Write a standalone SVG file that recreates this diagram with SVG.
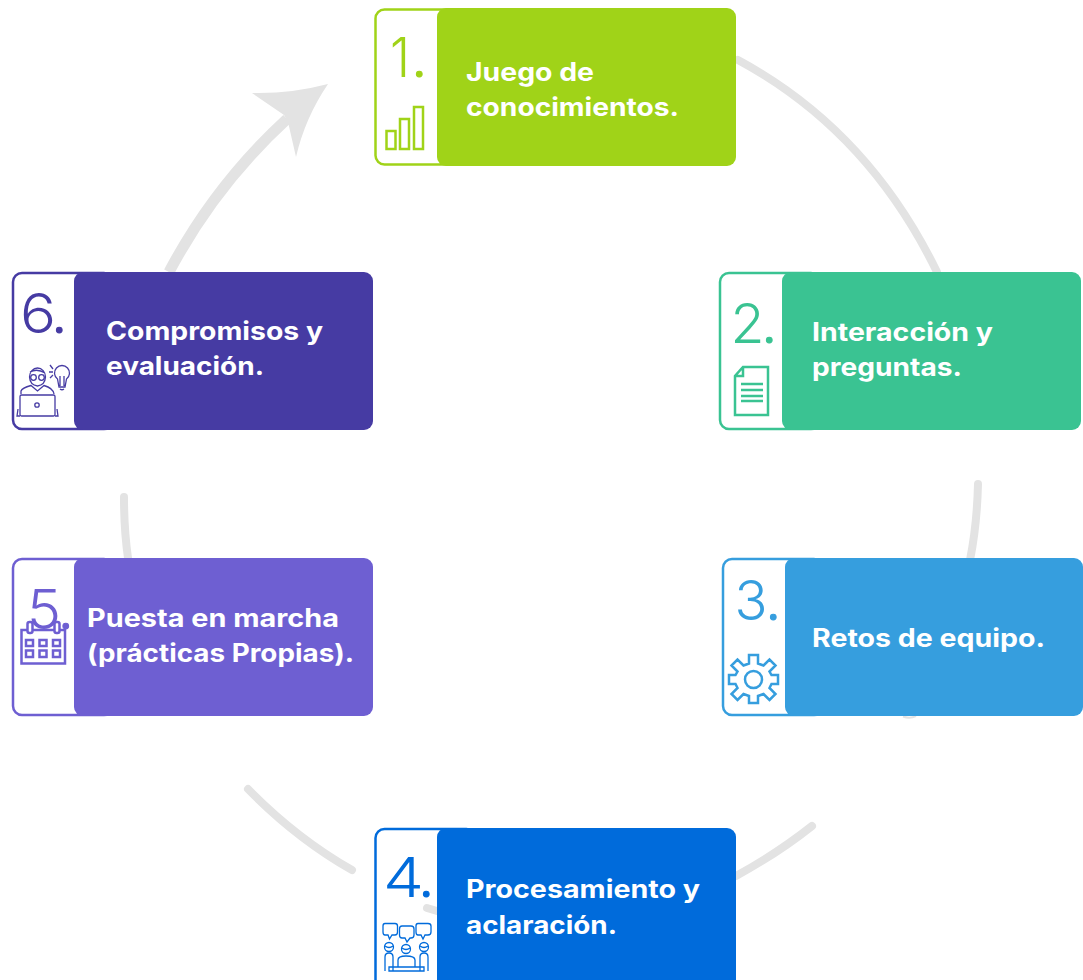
<svg xmlns="http://www.w3.org/2000/svg" width="1083" height="980" viewBox="0 0 1083 980">
<style>
.lab{font-family:"Inter","Open Sans","Liberation Sans",sans-serif;font-weight:750;font-size:25px;fill:#fff}
.num{font-family:"Inter","Lato","Liberation Sans",sans-serif;font-weight:300;font-size:55px}
.arc{fill:none;stroke:#e3e3e3;stroke-width:8;stroke-linecap:round}
.ic{fill:none;stroke-width:2.500}
.ithin{fill:none;stroke-width:1.300}
.card{fill:#fff;stroke-width:2.500}
</style>
<rect width="1083" height="980" fill="#fff"/>
<g id="connectors">
<path class="arc" d="M738 60Q868 130 937 272"/>
<path class="arc" d="M978 484Q977 525 970 560"/>
<path d="M903 716.500Q910 719 916 716" fill="none" stroke="#e3e3e3" stroke-width="2"/>
<path class="arc" d="M812 826Q778 853 736 876"/>
<path class="arc" d="M352 870Q296 838 248 789"/>
<path class="arc" d="M124 497Q124 530 128 558"/>
<path d="M169 272Q215 185 287 119" fill="none" stroke="#e3e3e3" stroke-width="11"/>
<path d="M328 84Q290 94 252 93L284 115L288 122L296 157Q305 118 328 84Z" fill="#e3e3e3"/>
</g>
<g id="node-1">
<rect class="card" x="375.500" y="9.500" width="100" height="155" rx="9" stroke="#a0d318"/>
<rect x="437" y="8" width="299" height="158" rx="9" fill="#a0d318"/>
<text class="num" y="77" fill="#a0d318"><tspan x="390" textLength="20" lengthAdjust="spacingAndGlyphs">1</tspan><tspan x="411.500" stroke="#a0d318" stroke-width="1">.</tspan></text>
<g class="ic" stroke="#a0d318"><rect x="386.500" y="131" width="9" height="18"/><rect x="400" y="119" width="9" height="30"/><rect x="414" y="107" width="9" height="42"/></g>
<text class="lab" x="466" y="81" textLength="128" lengthAdjust="spacingAndGlyphs">Juego de</text>
<text class="lab" x="466" y="116" textLength="213" lengthAdjust="spacingAndGlyphs">conocimientos.</text>
</g>
<g id="node-2">
<rect class="card" x="720" y="273" width="100" height="156" rx="9" stroke="#3ac392"/>
<rect x="782" y="272" width="299" height="158" rx="9" fill="#3ac392"/>
<text class="num" y="343" fill="#3ac392"><tspan x="730.500" textLength="34" lengthAdjust="spacingAndGlyphs">2</tspan><tspan x="761.500" stroke="#3ac392" stroke-width="1">.</tspan></text>
<g class="ic" stroke="#3ac392"><path d="M743 367H768V415H735V376ZM743 367V376H735M741 384H763M741 390H763M741 396H763M741 401H763"/></g>
<text class="lab" x="812" y="341" textLength="181" lengthAdjust="spacingAndGlyphs">Interacción y</text>
<text class="lab" x="812" y="376" textLength="150" lengthAdjust="spacingAndGlyphs">preguntas.</text>
</g>
<g id="node-3">
<rect class="card" x="723" y="559" width="100" height="156" rx="9" stroke="#369ede"/>
<rect x="785" y="558" width="298" height="158" rx="9" fill="#369ede"/>
<text class="num" y="620" fill="#369ede"><tspan x="734.500" textLength="33" lengthAdjust="spacingAndGlyphs">3</tspan><tspan x="765.500" stroke="#369ede" stroke-width="1">.</tspan></text>
<g class="ic" stroke="#369ede"><circle cx="753.500" cy="679.500" r="8.500"/><path d="M749 655H758V663.500L763.500 665.500L769.500 659.500L775.500 665.500L769.500 671.500L771.500 675H778V684H771.500L769.500 688L775.500 694L769.500 700L763.500 694L758 696V703H749V696L743.500 694L737.500 700L731.500 694L737.500 688L735.500 684H729V675H735.500L737.500 671.500L731.500 665.500L737.500 659.500L743.500 665.500L749 663.500Z"/></g>
<text class="lab" x="812" y="647" textLength="233" lengthAdjust="spacingAndGlyphs">Retos de equipo.</text>
</g>
<g id="node-4">
<rect class="card" x="375.500" y="829" width="100" height="160" rx="9" stroke="#006bdb"/>
<path d="M427 908L437 911" stroke="#e3e3e3" stroke-width="8" stroke-linecap="round"/>
<rect x="437" y="828" width="299" height="162" rx="9" fill="#006bdb"/>
<text class="num" y="897" fill="#006bdb"><tspan x="383" textLength="41" lengthAdjust="spacingAndGlyphs">4</tspan><tspan x="418.500" stroke="#006bdb" stroke-width="1">.</tspan></text>
<g class="ithin" stroke="#006bdb">
<path d="M385 923.500H395Q397.500 923.500 397.500 926V932Q397.500 935 395 935H392L389.500 939L388 935H385Q383 935 383 932V926Q383 923.500 385 923.500Z"/>
<path d="M402 926H411Q414 926 414 929V935Q414 938 411 938H410L407 942L405 938H402Q399.500 938 399.500 935V929Q399.500 926 402 926Z"/>
<path d="M418 923.500H428Q431 923.500 431 926V932Q431 935 428 935H425L423 939L421 935H418Q416 935 416 932V926Q416 923.500 418 923.500Z"/>
<circle cx="389" cy="947" r="4.500"/><circle cx="406" cy="949" r="4.500"/><circle cx="424" cy="947" r="4.500"/>
<path d="M385 946Q389 949 393 946M402 948Q406 951 410 948M420 946Q424 949 428 946"/>
<path d="M385 971V957Q385 953 389 953Q393 953 393 957V971M398 967V960Q398 956 406 956Q415 956 415 960V967M420 971V957Q420 953 424 953Q428 953 428 957V971M389 967H424V971H389Z"/>
</g>
<text class="lab" x="466" y="898" textLength="234" lengthAdjust="spacingAndGlyphs">Procesamiento y</text>
<text class="lab" x="466" y="934" textLength="151" lengthAdjust="spacingAndGlyphs">aclaración.</text>
</g>
<g id="node-5">
<rect class="card" x="13" y="559" width="100" height="156" rx="9" stroke="#6e5fd2"/>
<rect x="74" y="558" width="299" height="158" rx="9" fill="#6e5fd2"/>
<text class="num" y="629" fill="#6e5fd2"><tspan x="27" textLength="34" lengthAdjust="spacingAndGlyphs">5</tspan><tspan x="58" stroke="#6e5fd2" stroke-width="1">.</tspan></text>
<g class="ic" stroke="#6e5fd2"><path d="M21.500 630H65V663.500H21.500Z" fill="#fff"/><rect x="27.500" y="622" width="5" height="11" rx="2" fill="#fff"/><rect x="54.500" y="622" width="5" height="11" rx="2" fill="#fff"/>
<rect x="26" y="640" width="7" height="6"/><rect x="39.500" y="640" width="7" height="6"/><rect x="53" y="640" width="7" height="6"/><rect x="26" y="650.500" width="7" height="6.500"/><rect x="39.500" y="650.500" width="7" height="6.500"/><rect x="53" y="650.500" width="7" height="6.500"/></g>
<text class="lab" x="87" y="627" textLength="252" lengthAdjust="spacingAndGlyphs">Puesta en marcha</text>
<text class="lab" x="87" y="662" textLength="267" lengthAdjust="spacingAndGlyphs">(prácticas Propias).</text>
</g>
<g id="node-6">
<rect class="card" x="13" y="273" width="100" height="156" rx="9" stroke="#463ba3"/>
<rect x="74" y="272" width="299" height="158" rx="9" fill="#463ba3"/>
<text class="num" y="333" fill="#463ba3"><tspan x="20" textLength="36" lengthAdjust="spacingAndGlyphs">6</tspan><tspan x="51.500" stroke="#463ba3" stroke-width="1">.</tspan></text>
<g class="ithin" stroke="#463ba3">
<path d="M29.500 377A8 9 0 0 1 45.500 377Q45 385 37.500 386Q30 385 29.500 377ZM30 372Q37 368 45 373"/>
<circle cx="33.500" cy="377.500" r="2.800"/><circle cx="41.500" cy="377.500" r="2.800"/>
<path d="M21 394V391Q22 388 31 385.500L37.500 391L44 385.500Q53 388 54 394"/>
<rect x="20" y="395" width="35" height="21" rx="1.500"/><circle cx="37" cy="405" r="2.200"/>
<path d="M18 409L17 416H20M57 409L58 416H55"/>
<path d="M57.500 379A7.500 7.500 0 1 1 66.500 379L65 387H59ZM60 389Q62 390.500 64 389M60 376V386M64 376V386"/>
<path d="M50 365L53 369M49 372H53M50 378L53 375"/>
</g>
<text class="lab" x="106" y="340" textLength="217" lengthAdjust="spacingAndGlyphs">Compromisos y</text>
<text class="lab" x="106" y="375" textLength="158" lengthAdjust="spacingAndGlyphs">evaluación.</text>
</g>
</svg>
